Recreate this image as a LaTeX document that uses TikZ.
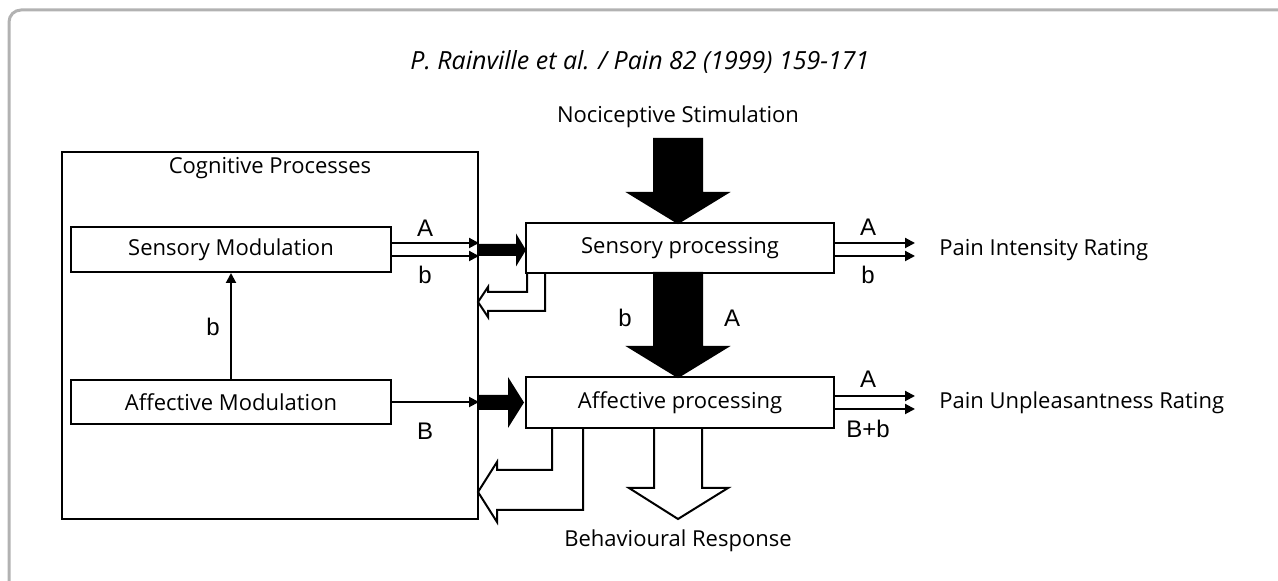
\documentclass[tikz,border=0pt]{standalone}
\usepackage{fontspec}
\setmainfont{Open Sans}
\newfontfamily\arialfont{Liberation Sans}
\usetikzlibrary{arrows.meta}
% black block arrow pointing down: centre x, top y, head y, tip y
\newcommand{\blockdown}[5]{\filldraw[#5, line width=1pt] (#1-24,#2) -- (#1+24,#2) -- (#1+24,#3) -- (#1+49,#3) -- (#1,#4) -- (#1-49,#3) -- (#1-24,#3) -- cycle;}
% black block arrow pointing right: start x, head x, tip x, centre y, body half, head half
\newcommand{\blockright}[6]{\fill (#1,#4-#5) -- (#2,#4-#5) -- (#2,#4-#6) -- (#3,#4) -- (#2,#4+#6) -- (#2,#4+#5) -- (#1,#4+#5) -- cycle;}
\tikzset{
  box/.style={draw, line width=1pt, inner sep=0pt, font=\fontsize{11}{13}\selectfont},
  lbl/.style={font=\arialfont\fontsize{12}{14}\selectfont, inner sep=0pt},
  txt/.style={font=\fontsize{11}{13}\selectfont, inner sep=0pt},
  arr/.style={line width=1pt, -{Triangle[length=5pt,width=5pt]}},
  hollow/.style={line width=1pt, line join=miter}
}
\begin{document}
\begin{tikzpicture}[x=0.5pt, y=-0.5pt]
    \useasboundingbox (0,0) rectangle (1278,581);
    % frame
    \draw[black!30, line width=1.5pt, rounded corners=6pt] (9,620) -- (9,10) -- (1320,10);
    % title
    \node[font=\itshape\fontsize{12.5}{15}\selectfont] (title) at (640,62) {P. Rainville et al. / Pain 82 (1999) 159-171};
    % boxes
    \node[box, minimum width=208pt, minimum height=183.5pt] (cog) at (270,335.5) {};
    \node[txt] (cogt) at (270,168) {Cognitive Processes};
    \node[box, minimum width=160pt, minimum height=22.5pt] (smod) at (231,249.5) {Sensory Modulation};
    \node[box, minimum width=160pt, minimum height=22pt] (amod) at (231,402) {Affective Modulation};
    \node[box, minimum width=154pt, minimum height=25pt] (sproc) at (680,248) {Sensory processing};
    \node[box, minimum width=154pt, minimum height=25.5pt] (aproc) at (680,402.5) {Affective processing};
    % outer texts
    \node[txt] (noci) at (678,117) {Nociceptive Stimulation};
    \node[txt] (behav) at (678,541) {Behavioural Response};
    \node[txt, anchor=west] (pir) at (939,250) {Pain Intensity Rating};
    \node[txt, anchor=west] (pur) at (939,403) {Pain Unpleasantness Rating};
    % modulation arrows
    \draw[arr] (amod.north) -- (smod.south);
    \node[lbl] (lb1) at (213,327) {b};
    \draw[arr] (smod.east |- 0,243) -- (cog.east |- 0,243);
    \draw[arr] (smod.east |- 0,256) -- (cog.east |- 0,256);
    \node[lbl] (la1) at (425,228) {A};
    \node[lbl] (lb2) at (425,275) {b};
    \draw[arr] (amod.east) -- (cog.east |- amod.east);
    \node[lbl] (lB1) at (425,431) {B};
    % black arrows
    \blockright{478}{516}{526}{250}{6}{16.5}
    \blockright{478}{508}{524}{402.5}{7.5}{25.5}
    \blockdown{678}{139}{193}{223}{black}
    \blockdown{678}{273}{347}{377}{black}
    \node[lbl] (lb3) at (625,318) {b};
    \node[lbl] (la2) at (732,318) {A};
    % output arrows
    \draw[arr] (sproc.east |- 0,243) -- (915,243);
    \draw[arr] (sproc.east |- 0,256) -- (915,256);
    \node[lbl] (la3) at (868,227) {A};
    \node[lbl] (lb4) at (868,275) {b};
    \draw[arr] (aproc.east |- 0,396) -- (915,396);
    \draw[arr] (aproc.east |- 0,409) -- (915,409);
    \node[lbl] (la4) at (868,379) {A};
    \node[lbl] (lBb) at (868,429) {B+b};
    % hollow arrows
    \draw[hollow] (527,273) -- (527,292) -- (488,292) -- (488,287) -- (478,302) -- (488,317) -- (488,311) -- (545,311) -- (545,273);
    \draw[hollow] (552,428) -- (552,470) -- (497,470) -- (497,462) -- (478,492) -- (497,522) -- (497,510) -- (583,510) -- (583,428);
    \draw[hollow] (654,428) -- (654,488) -- (629,488) -- (678,519) -- (728,488) -- (702,488) -- (702,428);
\end{tikzpicture}
\end{document}
